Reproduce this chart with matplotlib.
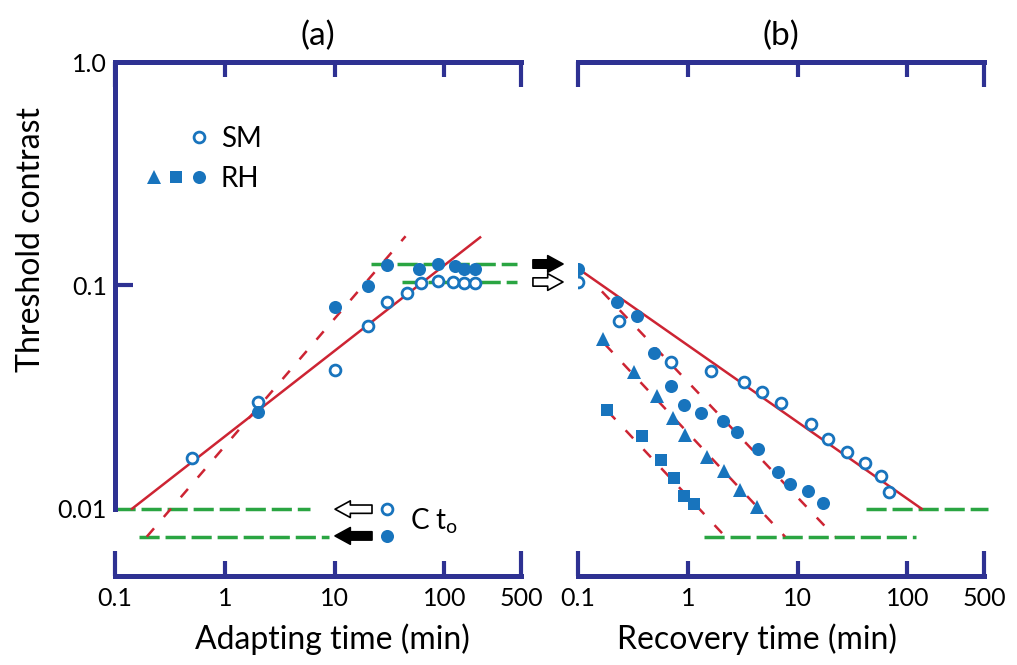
"""
Threshold contrast vs adapting time (a) and recovery time (b), log-log.
"""
import matplotlib
matplotlib.use("Agg")
import matplotlib.pyplot as plt
from matplotlib.lines import Line2D
from matplotlib.legend_handler import HandlerTuple
from matplotlib.ticker import FixedLocator, FixedFormatter, NullLocator

plt.rcParams["font.family"] = ["Lato", "DejaVu Sans"]
plt.rcParams["mathtext.fontset"] = "custom"
plt.rcParams["mathtext.rm"] = "Lato"

NAVY = "#2e3192"
BLUE = "#1874bd"
RED = "#cd2433"
GREEN = "#2aa542"

# ---- panel (a): adaptation ----
sm_adapt_t = [0.5, 2, 10, 20, 30, 46, 61, 87, 121, 152, 191]
sm_adapt_c = [0.0168, 0.030, 0.042, 0.066, 0.084, 0.092, 0.103, 0.105, 0.104, 0.103, 0.103]
rh_adapt_t = [2, 10, 20, 30, 59, 87, 126, 150, 191]
rh_adapt_c = [0.027, 0.080, 0.099, 0.123, 0.118, 0.125, 0.122, 0.118, 0.118]

fit_sm_adapt_t = [0.143, 212]
fit_sm_adapt_c = [0.010, 0.164]
fit_rh_adapt_t = [0.195, 44.4]
fit_rh_adapt_c = [0.0075, 0.166]

green_adapt_level = [0.125, 0.104, 0.010, 0.0075]
green_adapt_span = [(21.4, 458), (40.8, 458), (0.1, 6.0), (0.165, 8.9)]

# ---- panel (b): recovery ----
sm_rec_t = [0.1, 0.236, 0.71, 1.64, 3.28, 4.77, 7.1, 13.3, 19.0, 28.2, 41, 57.4, 67.8]
sm_rec_c = [0.104, 0.069, 0.0452, 0.0412, 0.0368, 0.0332, 0.0296, 0.0239, 0.0205,
            0.0179, 0.016, 0.014, 0.0119]
rh_circ_t = [0.1, 0.226, 0.343, 0.49, 0.71, 0.916, 1.33, 2.11, 2.83, 4.39, 6.67, 8.57, 12.5, 17.1]
rh_circ_c = [0.119, 0.084, 0.0727, 0.050, 0.0353, 0.029, 0.0267, 0.0246, 0.022, 0.0185,
             0.0146, 0.0129, 0.012, 0.0106]
rh_tri_t = [0.169, 0.322, 0.521, 0.728, 0.935, 1.51, 2.16, 3.01, 4.30]
rh_tri_c = [0.0573, 0.0408, 0.0319, 0.0254, 0.0213, 0.0170, 0.0147, 0.0121, 0.0102]
rh_sq_t = [0.183, 0.381, 0.566, 0.743, 0.916, 1.13]
rh_sq_c = [0.0276, 0.0211, 0.0165, 0.0137, 0.0114, 0.0105]

fit_sm_rec_t = [0.1, 135]
fit_sm_rec_c = [0.119, 0.010]
fit_rh_rec_t = [[0.165, 21.9], [0.176, 7.7], [0.187, 2.2]]
fit_rh_rec_c = [[0.094, 0.0075], [0.0545, 0.0075], [0.0273, 0.0075]]

green_rec_level = [0.010, 0.0075]
green_rec_span = [(41.9, 540), (1.42, 119)]

x_major = [1, 10, 100]
x_major_labels = ["1", "10", "100"]
x_ends = [0.1, 500]
x_ends_labels = ["0.1", "500"]

open_kw = dict(ls="none", marker="o", ms=7.8, mfc="white", mec=BLUE, mew=2.0, zorder=4)
circ_kw = dict(ls="none", marker="o", ms=9.4, color=BLUE, mew=0, zorder=4)
tri_kw = dict(ls="none", marker="^", ms=10, color=BLUE, mew=0, zorder=4)
sq_kw = dict(ls="none", marker="s", ms=8.4, color=BLUE, mew=0, zorder=4)
red_kw = dict(color=RED, lw=1.8, zorder=2)
red_dash = (4.4, 6.0)
green_kw = dict(color=GREEN, lw=2.5, dashes=(5.8, 1.7), zorder=1, clip_on=False)


def style_axes(ax, with_y):
    ax.set_xscale("log")
    ax.set_yscale("log")
    ax.set_xlim(0.1, 500)
    ax.set_ylim(0.005, 1.0)
    for s in ax.spines.values():
        s.set_color(NAVY)
        s.set_linewidth(3.6)
    ax.spines["right"].set_visible(False)
    ax.spines["left"].set_visible(with_y)
    ax.spines["left"].set_bounds(0.01, 1.0)

    ax.xaxis.set_major_locator(FixedLocator(x_major))
    ax.xaxis.set_major_formatter(FixedFormatter(x_major_labels))
    ax.xaxis.set_minor_locator(FixedLocator(x_ends))
    ax.xaxis.set_minor_formatter(FixedFormatter(x_ends_labels))
    ax.tick_params(axis="x", which="both", direction="in", top=True, color=NAVY,
                   width=3, labelsize=18, pad=8)
    ax.tick_params(axis="x", which="major", length=11)
    ax.tick_params(axis="x", which="minor", length=18)

    if with_y:
        ax.yaxis.set_major_locator(FixedLocator([0.1]))
        ax.yaxis.set_major_formatter(FixedFormatter(["0.1"]))
        ax.yaxis.set_minor_locator(FixedLocator([0.01, 1.0]))
        ax.yaxis.set_minor_formatter(FixedFormatter(["0.01", "1.0"]))
        ax.tick_params(axis="y", which="both", direction="in", color=NAVY, width=3,
                       labelsize=18, pad=6)
        ax.tick_params(axis="y", which="major", length=13)
        ax.tick_params(axis="y", which="minor", length=0)
    else:
        ax.yaxis.set_major_locator(NullLocator())
        ax.yaxis.set_minor_locator(NullLocator())


def block_arrow(ax, tail, tip, filled):
    ax.annotate("", xy=tip, xytext=tail, xycoords="axes fraction",
                textcoords="axes fraction", annotation_clip=False,
                arrowprops=dict(arrowstyle="simple,head_length=11,head_width=12,tail_width=6",
                                mutation_scale=1, shrinkA=0, shrinkB=0, lw=1.2,
                                fc="black" if filled else "white", ec="black"))


fig = plt.figure(figsize=(10.17, 6.65), dpi=100)
ax_a = fig.add_axes([115 / 1017, 1 - 576 / 665, 406 / 1017, 514 / 665])
ax_b = fig.add_axes([578 / 1017, 1 - 576 / 665, 406 / 1017, 514 / 665])
style_axes(ax_a, True)
style_axes(ax_b, False)

# (a)
for lvl, (t0, t1) in zip(green_adapt_level, green_adapt_span):
    ax_a.plot([t0, t1], [lvl, lvl], **green_kw)
ax_a.plot(fit_sm_adapt_t, fit_sm_adapt_c, **red_kw)
ax_a.plot(fit_rh_adapt_t, fit_rh_adapt_c, dashes=red_dash, **red_kw)
ax_a.plot(sm_adapt_t, sm_adapt_c, **open_kw)
ax_a.plot(rh_adapt_t, rh_adapt_c, **circ_kw)

blank = Line2D([], [], ls="none")
sm_key = Line2D([], [], **open_kw)
rh_keys = (Line2D([], [], **tri_kw), Line2D([], [], **sq_kw), Line2D([], [], **circ_kw))
ax_a.legend([(blank, blank, sm_key), rh_keys], ["SM", "RH"],
            handler_map={tuple: HandlerTuple(ndivide=None, pad=0)},
            loc="center left", bbox_to_anchor=(0.069, 0.812), frameon=False,
            fontsize=20, handlelength=2.4, handletextpad=0.4, labelspacing=0.5,
            borderpad=0, borderaxespad=0)

# starting-threshold key (C t_o)
block_arrow(ax_a, (0.633, 0.130), (0.542, 0.130), filled=False)
block_arrow(ax_a, (0.633, 0.078), (0.542, 0.078), filled=True)
ax_a.plot([0.670], [0.130], transform=ax_a.transAxes, clip_on=False, **open_kw)
ax_a.plot([0.670], [0.078], transform=ax_a.transAxes, clip_on=False, **circ_kw)
ax_a.text(0.727, 0.106, r"C t$_{\mathrm{o}}$", transform=ax_a.transAxes,
          fontsize=20, va="center", ha="left")

ax_a.set_title("(a)", fontsize=24, pad=12)
ax_a.set_xlabel("Adapting time (min)", fontsize=23)
ax_a.xaxis.set_label_coords(0.535, -0.092)
ax_a.set_ylabel("Threshold contrast", fontsize=23)
ax_a.yaxis.set_label_coords(-0.17, 0.654)

# (b)
for lvl, (t0, t1) in zip(green_rec_level, green_rec_span):
    ax_b.plot([t0, t1], [lvl, lvl], **green_kw)
ax_b.plot(fit_sm_rec_t, fit_sm_rec_c, **red_kw)
for t, c in zip(fit_rh_rec_t, fit_rh_rec_c):
    ax_b.plot(t, c, dashes=red_dash, **red_kw)
ax_b.plot(sm_rec_t, sm_rec_c, **open_kw)
ax_b.plot(rh_circ_t, rh_circ_c, **circ_kw)
ax_b.plot(rh_tri_t, rh_tri_c, **tri_kw)
ax_b.plot(rh_sq_t, rh_sq_c, **sq_kw)

block_arrow(ax_b, (-0.111, 0.607), (-0.037, 0.607), filled=True)
block_arrow(ax_b, (-0.111, 0.572), (-0.037, 0.572), filled=False)

ax_b.set_title("(b)", fontsize=24, pad=12)
ax_b.set_xlabel("Recovery time (min)", fontsize=23)
ax_b.xaxis.set_label_coords(0.441, -0.092)

fig.savefig("out.png", dpi=100)
